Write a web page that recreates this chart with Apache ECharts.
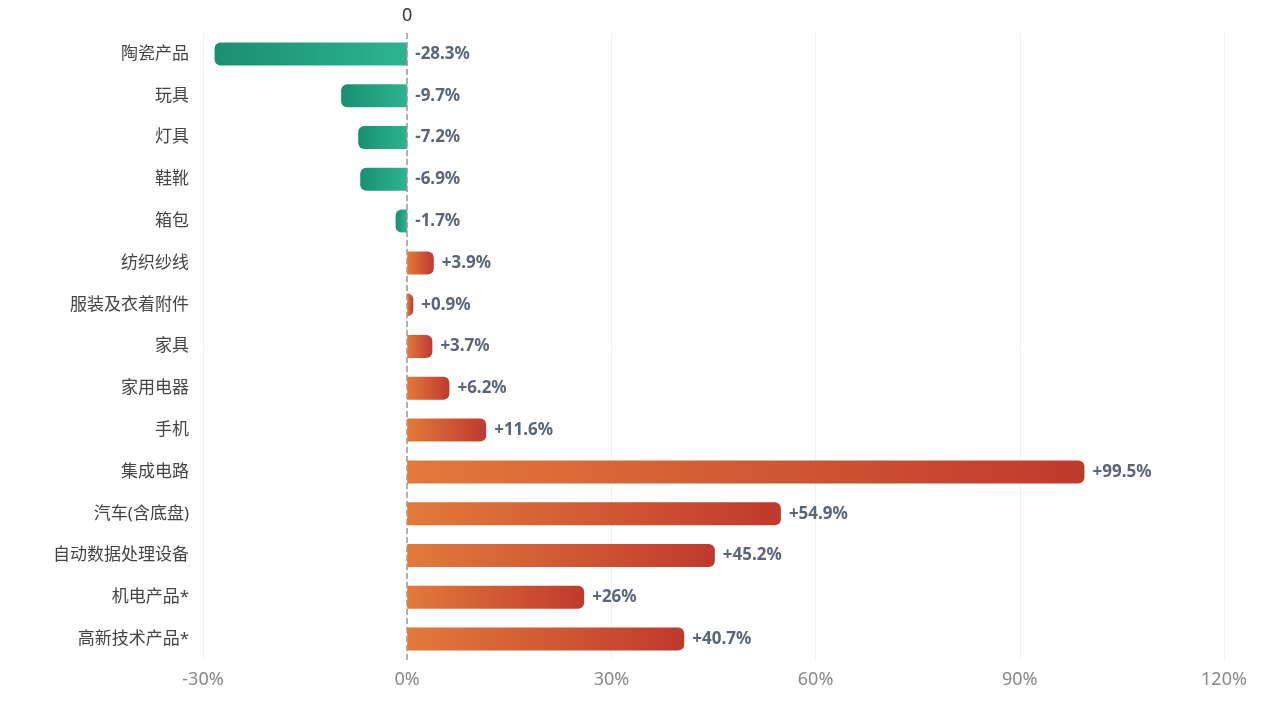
<!DOCTYPE html>
<html>
<head>
<meta charset="utf-8">
<script src="https://cdn.jsdelivr.net/npm/echarts@6/dist/echarts.min.js"></script>
<style>
  html, body { margin: 0; padding: 0; background: #fff; }
  #main { width: 1282px; height: 705px; }
</style>
</head>
<body>
<div id="main"></div>
<script>
// 品类（自上而下）
const categories = [
    '陶瓷产品', '玩具', '灯具', '鞋靴', '箱包', '纺织纱线', '服装及衣着附件',
    '家具', '家用电器', '手机', '集成电路', '汽车(含底盘)', '自动数据处理设备',
    '机电产品*', '高新技术产品*'
];
// 同比增速 %
const growth = [-28.3, -9.7, -7.2, -6.9, -1.7, 3.9, 0.9, 3.7, 6.2, 11.6, 99.5, 54.9, 45.2, 26, 40.7];
const xTicks = { min: -30, max: 120, interval: 30 };

const FONT = '"Noto Sans", "Noto Sans CJK SC", sans-serif';

const greenGrad = new echarts.graphic.LinearGradient(0, 0, 1, 0, [
    { offset: 0, color: '#1a8f6e' },
    { offset: 1, color: '#2cb58f' }
]);
const redGrad = new echarts.graphic.LinearGradient(0, 0, 1, 0, [
    { offset: 0, color: '#e27a3a' },
    { offset: 1, color: '#c0392d' }
]);

let data = growth.map(v => ({
    value: v,
    itemStyle: {
        color: v < 0 ? greenGrad : redGrad,
        borderRadius: v < 0 ? [6, 0, 0, 6] : [0, 6, 6, 0]
    }
}));

let chart = echarts.init(document.getElementById('main'));
let option = {
    animation: false,
    textStyle: { fontFamily: FONT },
    grid: { left: 203, right: 58, top: 33, bottom: 45 },
    xAxis: {
        type: 'value',
        min: xTicks.min,
        max: xTicks.max,
        interval: xTicks.interval,
        axisLine: { show: false },
        axisTick: { show: false },
        axisLabel: {
            formatter: '{value}%',
            color: '#888',
            fontSize: 18,
            fontFamily: FONT,
            margin: 11
        },
        splitLine: { lineStyle: { color: '#f1f1f5' } }
    },
    yAxis: {
        type: 'category',
        inverse: true,
        data: categories,
        axisLine: { show: false },
        axisTick: { show: false },
        axisLabel: { color: '#444', fontSize: 17, fontFamily: FONT, margin: 14 }
    },
    series: [
        {
            type: 'bar',
            data: data,
            barWidth: 23,
            label: {
                show: true,
                position: 'right',
                distance: 8,
                color: '#5b6575',
                fontSize: 17,
                fontWeight: 'bold',
                fontFamily: FONT,
                formatter: p => (p.value > 0 ? '+' : '') + p.value + '%'
            },
            markLine: {
                silent: true,
                symbol: 'none',
                lineStyle: { color: '#999', type: 'dashed', width: 1.5 },
                label: { show: true, position: 'start', distance: 8, color: '#333', fontSize: 18, fontFamily: FONT, formatter: '0' },
                data: [{ xAxis: 0 }]
            }
        }
    ]
};
option && chart.setOption(option);
</script>
</body>
</html>
